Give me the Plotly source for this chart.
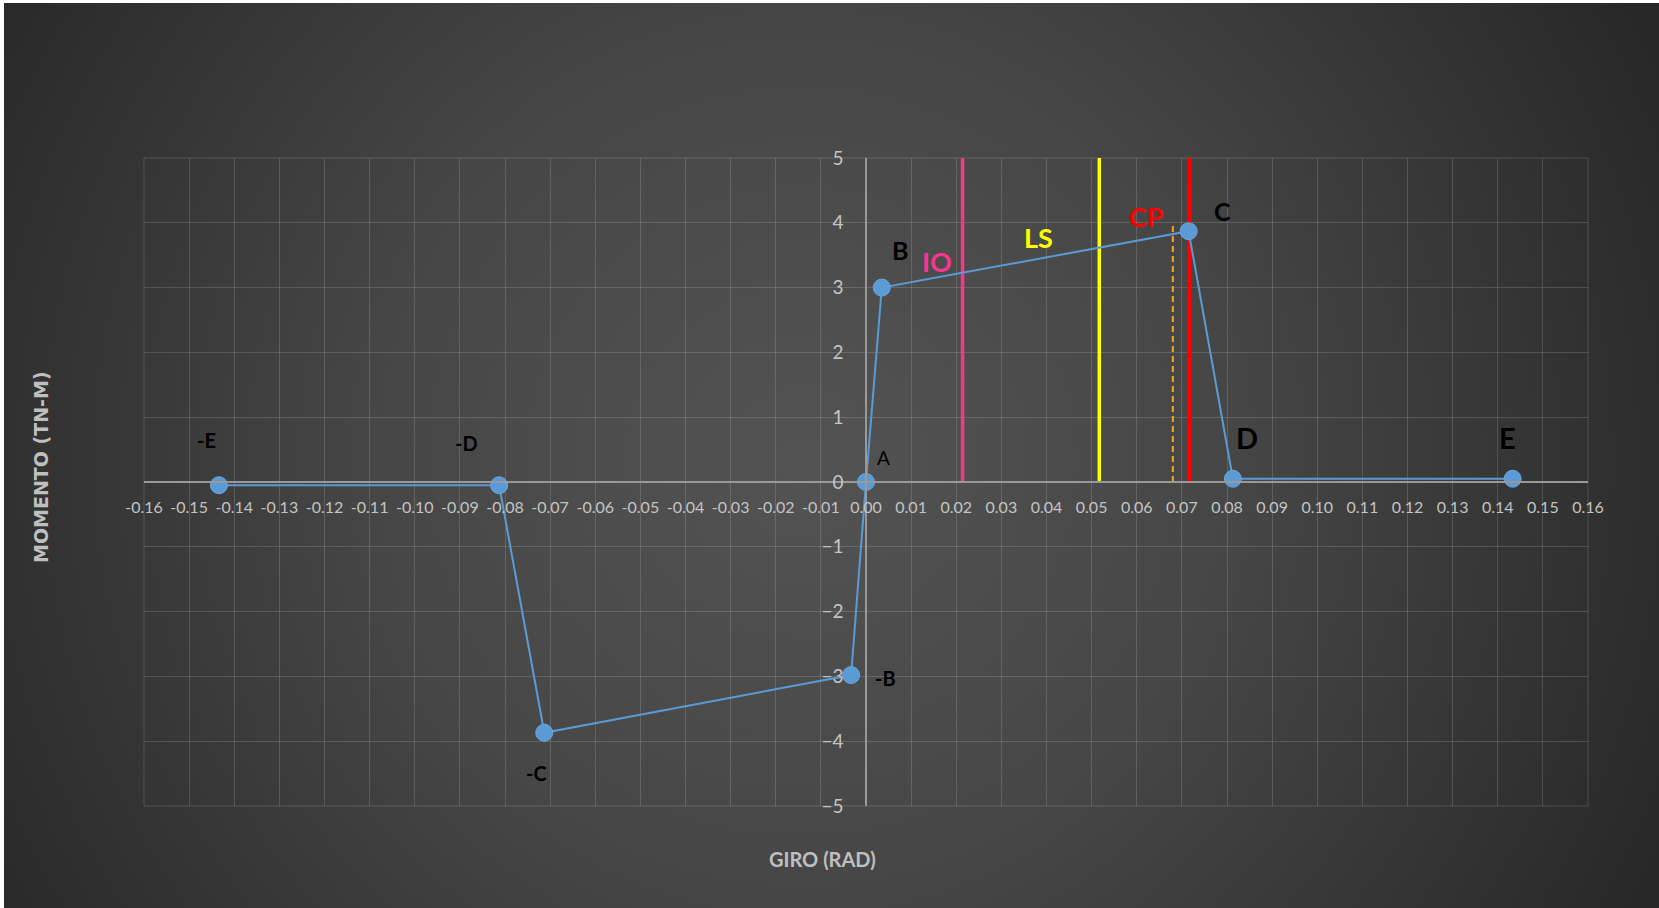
import base64
import plotly.graph_objects as go

# ---------------- data ----------------
point_labels = ["-E", "-D", "-C", "-B", "A", "B", "C", "D", "E"]
giro = [-0.1434, -0.0813, -0.0713, -0.0033, 0.0, 0.0035, 0.0715, 0.0813, 0.1433]
momento = [-0.05, -0.05, -3.87, -2.98, 0.0, 3.0, 3.87, 0.05, 0.05]

level_names = ["IO", "LS", "CP"]
level_giro = [0.0214, 0.0517, 0.0717]
level_top = [5.0, 5.0, 5.05]
level_label_y = [3.40, 3.77, 4.09]

dash_giro = 0.068
dash_top = 4.0

x_ticks = [round(-0.16 + 0.01 * i, 2) for i in range(33)]
y_ticks = [-5, -4, -3, -2, -1, 0, 1, 2, 3, 4, 5]

# ---------------- styles ----------------
W, H = 1659, 908
ML, MR, MT, MB = 144, 71, 158, 102
PW, PH = W - ML - MR, H - MT - MB

blue = "#5b9bd5"
level_colors = ["#f7378f", "#ffff00", "#ff0000"]
level_widths = [3.5, 3.5, 4]
label_style = {
    "-E": dict(dx=-12, dy=45, size=20, bold=True),
    "-D": dict(dx=-33, dy=42, size=20, bold=True),
    "-C": dict(dx=-8, dy=-40, size=20, bold=True),
    "-B": dict(dx=34, dy=-3, size=20, bold=True),
    "A": dict(dx=17, dy=25, size=19, bold=False),
    "B": dict(dx=18, dy=38, size=25, bold=True),
    "C": dict(dx=34, dy=20, size=25, bold=True),
    "D": dict(dx=14, dy=41, size=29, bold=True),
    "E": dict(dx=-5, dy=41, size=29, bold=True),
}
level_label_dx = [-26, -61, -43]

# background radial gradient as svg
svg = f"""<svg xmlns='http://www.w3.org/2000/svg' width='{W}' height='{H}'>
<defs><radialGradient id='g' gradientUnits='userSpaceOnUse' cx='800' cy='460' r='960'>
<stop offset='0' stop-color='#535353'/><stop offset='0.45' stop-color='#464646'/><stop offset='1' stop-color='#272727'/>
</radialGradient></defs>
<rect x='0' y='0' width='{W}' height='{H}' fill='url(#g)'/></svg>"""
bg_src = "data:image/svg+xml;base64," + base64.b64encode(svg.encode()).decode()

fig = go.Figure()

# performance level lines
for name, gx, top, col, lw in zip(level_names, level_giro, level_top, level_colors, level_widths):
    fig.add_trace(go.Scatter(x=[gx, gx], y=[0, top], mode="lines",
                             line=dict(color=col, width=lw), cliponaxis=False,
                             hoverinfo="skip", showlegend=False))
fig.add_trace(go.Scatter(x=[dash_giro, dash_giro], y=[0, dash_top], mode="lines",
                         line=dict(color="#f5a623", width=2, dash="6px,4px"),
                         hoverinfo="skip", showlegend=False))

# main curve
fig.add_trace(go.Scatter(x=giro, y=momento, mode="lines+markers",
                         line=dict(color=blue, width=2),
                         marker=dict(color=blue, size=17, line=dict(color="#6aa6dc", width=1)),
                         cliponaxis=False, showlegend=False))

annotations = []
for lab, gx, my in zip(point_labels, giro, momento):
    s = label_style[lab]
    annotations.append(dict(
        x=gx, y=my, xref="x", yref="y", showarrow=False,
        text=f"<b>{lab}</b>" if s["bold"] else lab,
        xshift=s["dx"], yshift=s["dy"],
        font=dict(family="Lato", size=s["size"], color="#000000")))
for name, gx, ly, col, dx in zip(level_names, level_giro, level_label_y, level_colors, level_label_dx):
    annotations.append(dict(
        x=gx, y=ly, xref="x", yref="y", showarrow=False, text=f"<b>{name}</b>",
        xshift=dx, font=dict(family="Lato", size=27, color=col)))

annotations.append(dict(
    x=(28 - ML) / PW, y=(H - MB - 467) / PH, xref="paper", yref="paper",
    showarrow=False, textangle=-90, text="<b>MOMENTO (TN-M)</b>",
    font=dict(family="DejaVu Sans", size=19, color="#bfbfbf")))
annotations.append(dict(
    x=(822 - ML) / PW, y=(H - MB - 873) / PH, xref="paper", yref="paper",
    showarrow=False, text="<b>GIRO (RAD)</b>",
    font=dict(family="Lato", size=20, color="#bfbfbf")))

grid = "rgba(255,255,255,0.15)"
fig.update_layout(
    width=W, height=H, autosize=False,
    margin=dict(l=ML, r=MR, t=MT, b=MB, pad=0),
    paper_bgcolor="#ffffff", plot_bgcolor="rgba(0,0,0,0)",
    showlegend=False,
    annotations=annotations,
    images=[dict(source=bg_src, xref="paper", yref="paper",
                 x=(-ML + 4) / PW, y=1 + (MT - 3) / PH,
                 sizex=(W - 4) / PW, sizey=(H - 3) / PH,
                 xanchor="left", yanchor="top", sizing="stretch", layer="below")],
    xaxis=dict(range=[-0.16, 0.16], tickvals=x_ticks,
               ticktext=[f"{v:.2f}" for v in x_ticks],
               showgrid=True, gridcolor=grid, gridwidth=1, zeroline=False,
               showline=True, linecolor="#999999", linewidth=1.5,
               anchor="free", position=0.5, ticks="", ticklabelstandoff=11,
               tickfont=dict(family="Lato", size=16, color="#c4c4c4")),
    yaxis=dict(range=[-5, 5], tickvals=y_ticks,
               showgrid=True, gridcolor=grid, gridwidth=1, zeroline=False,
               showline=True, linecolor="#999999", linewidth=1.5,
               anchor="free", position=0.5, ticks="", ticklabelstandoff=18,
               tickfont=dict(family="Lato", size=19, color="#c4c4c4")),
)
fig.add_shape(type="rect", xref="paper", yref="paper", x0=0, y0=0, x1=1, y1=1,
              line=dict(color=grid, width=1), layer="below")

fig.write_html("out.html", config={"displayModeBar": False},
               post_script="document.body.style.margin='0';document.body.style.overflow='hidden';")
